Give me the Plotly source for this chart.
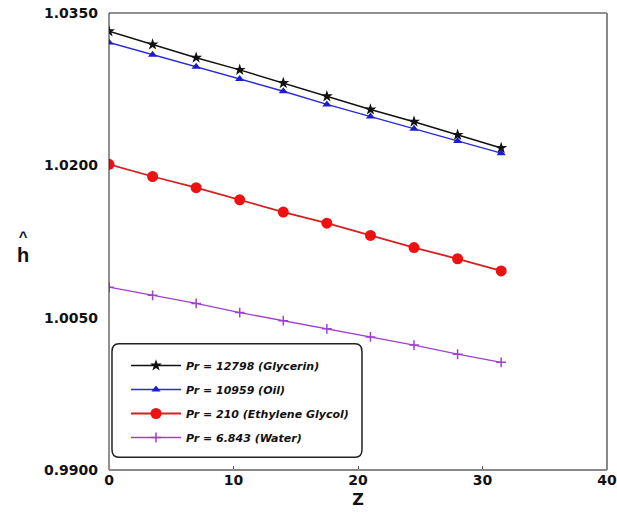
import plotly.graph_objects as go

z = [0, 3.5, 7, 10.5, 14, 17.5, 21, 24.5, 28, 31.5]
glycerin = [1.0332, 1.0319, 1.0306, 1.0294, 1.0281, 1.0268, 1.0255, 1.0243, 1.0230, 1.0217]
oil = [1.0321, 1.0309, 1.0297, 1.0285, 1.0273, 1.0260, 1.0248, 1.0236, 1.0224, 1.0212]
glycol = [1.0201, 1.0189, 1.0178, 1.0166, 1.0154, 1.0143, 1.0131, 1.0119, 1.0108, 1.0096]
water = [1.0080, 1.0072, 1.0064, 1.0055, 1.0047, 1.0039, 1.0031, 1.0023, 1.0014, 1.0006]

names = ["Pr = 12798 (Glycerin)", "Pr = 10959 (Oil)", "Pr = 210 (Ethylene Glycol)", "Pr = 6.843 (Water)"]
y_ticks = [0.99, 1.005, 1.02, 1.035]
y_tick_labels = ["0.9900", "1.0050", "1.0200", "1.0350"]
x_ticks = [0, 10, 20, 30, 40]

fig = go.Figure()
fig.add_trace(go.Scatter(x=z, y=glycerin, name=names[0], mode="lines+markers", legendgroup="a",
                         line=dict(color="#111111", width=1.5),
                         marker=dict(symbol="star", size=9, color="#111111")))
fig.add_trace(go.Scatter(x=z, y=oil, name=names[1], mode="lines+markers", legendgroup="b",
                         line=dict(color="#2a2ad8", width=1.5),
                         marker=dict(symbol="triangle-up", size=8, color="#1c1cd0")))
fig.add_trace(go.Scatter(x=z, y=glycol, name=names[2], mode="lines+markers", legendgroup="c",
                         line=dict(color="#d42020", width=1.8),
                         marker=dict(symbol="circle", size=11, color="#ee1111")))
fig.add_trace(go.Scatter(x=z, y=water, name=names[3], mode="lines+markers", legendgroup="d",
                         line=dict(color="#a040d0", width=1.3),
                         marker=dict(symbol="cross-thin-open", size=7,
                                     line=dict(color="#7020a0", width=1.5))))

tick_font = dict(family="DejaVu Sans", size=14, color="#111111", weight="bold")
pw, ph = 617 - 109 - 10, 514 - 13 - 44

fig.update_layout(
    width=617, height=514,
    margin=dict(l=109, r=10, t=13, b=44, autoexpand=False),
    paper_bgcolor="white", plot_bgcolor="white",
    showlegend=True,
    legend=dict(x=(126 - 109) / pw, y=(470 - 351) / ph, xanchor="left", yanchor="top",
                bgcolor="rgba(0,0,0,0)", borderwidth=0,
                tracegroupgap=5, itemwidth=50,
                font=dict(family="DejaVu Sans", size=11, color="#111111", weight="bold", style="italic")),
    xaxis=dict(range=[0, 40], tickvals=x_ticks, ticks="inside", ticklen=4, tickcolor="#555",
               showgrid=False, zeroline=False, showline=False, automargin=False,
               tickfont=tick_font, ticklabeloverflow="allow",
               title=dict(text="<b>Z</b>", font=dict(family="DejaVu Sans", size=16, color="#111"), standoff=6)),
    yaxis=dict(range=[0.99, 1.035], tickvals=y_ticks, ticktext=y_tick_labels, ticks="",
               showgrid=False, zeroline=False, showline=False, automargin=False,
               ticklabelstandoff=10, tickfont=tick_font, ticklabeloverflow="allow"),
    shapes=[
        dict(type="line", xref="paper", yref="paper", x0=0, x1=1, y0=1, y1=1, line=dict(color="#222", width=1)),
        dict(type="line", xref="paper", yref="paper", x0=0, x1=0, y0=0, y1=1, line=dict(color="#222", width=1)),
        dict(type="line", xref="paper", yref="paper", x0=1, x1=1, y0=0, y1=1, line=dict(color="#888", width=2)),
        dict(type="line", xref="paper", yref="paper", x0=0, x1=1, y0=0, y1=0, line=dict(color="#888", width=2)),
        dict(type="path", xref="paper", yref="paper",
             path="M 0.02,0.028 L 0.494,0.028 Q 0.508,0.028 0.508,0.045 L 0.508,0.259 Q 0.508,0.276 0.494,0.276 "
                  "L 0.02,0.276 Q 0.006,0.276 0.006,0.259 L 0.006,0.045 Q 0.006,0.028 0.02,0.028 Z",
             line=dict(color="#222", width=1.5), fillcolor="rgba(0,0,0,0)"),
    ],
    annotations=[
        dict(text="<b>^</b><br><b><span style='font-size:20px'>h</span></b>", x=(15 - 109) / pw,
             y=(470 - 247) / ph, xref="paper", yref="paper", showarrow=False,
             font=dict(family="Liberation Sans, Arial", size=15, color="#111")),
    ],
)

fig.write_html("out.html", config={"displayModeBar": False},
               post_script="document.body.style.margin='0';document.body.style.padding='0';")
